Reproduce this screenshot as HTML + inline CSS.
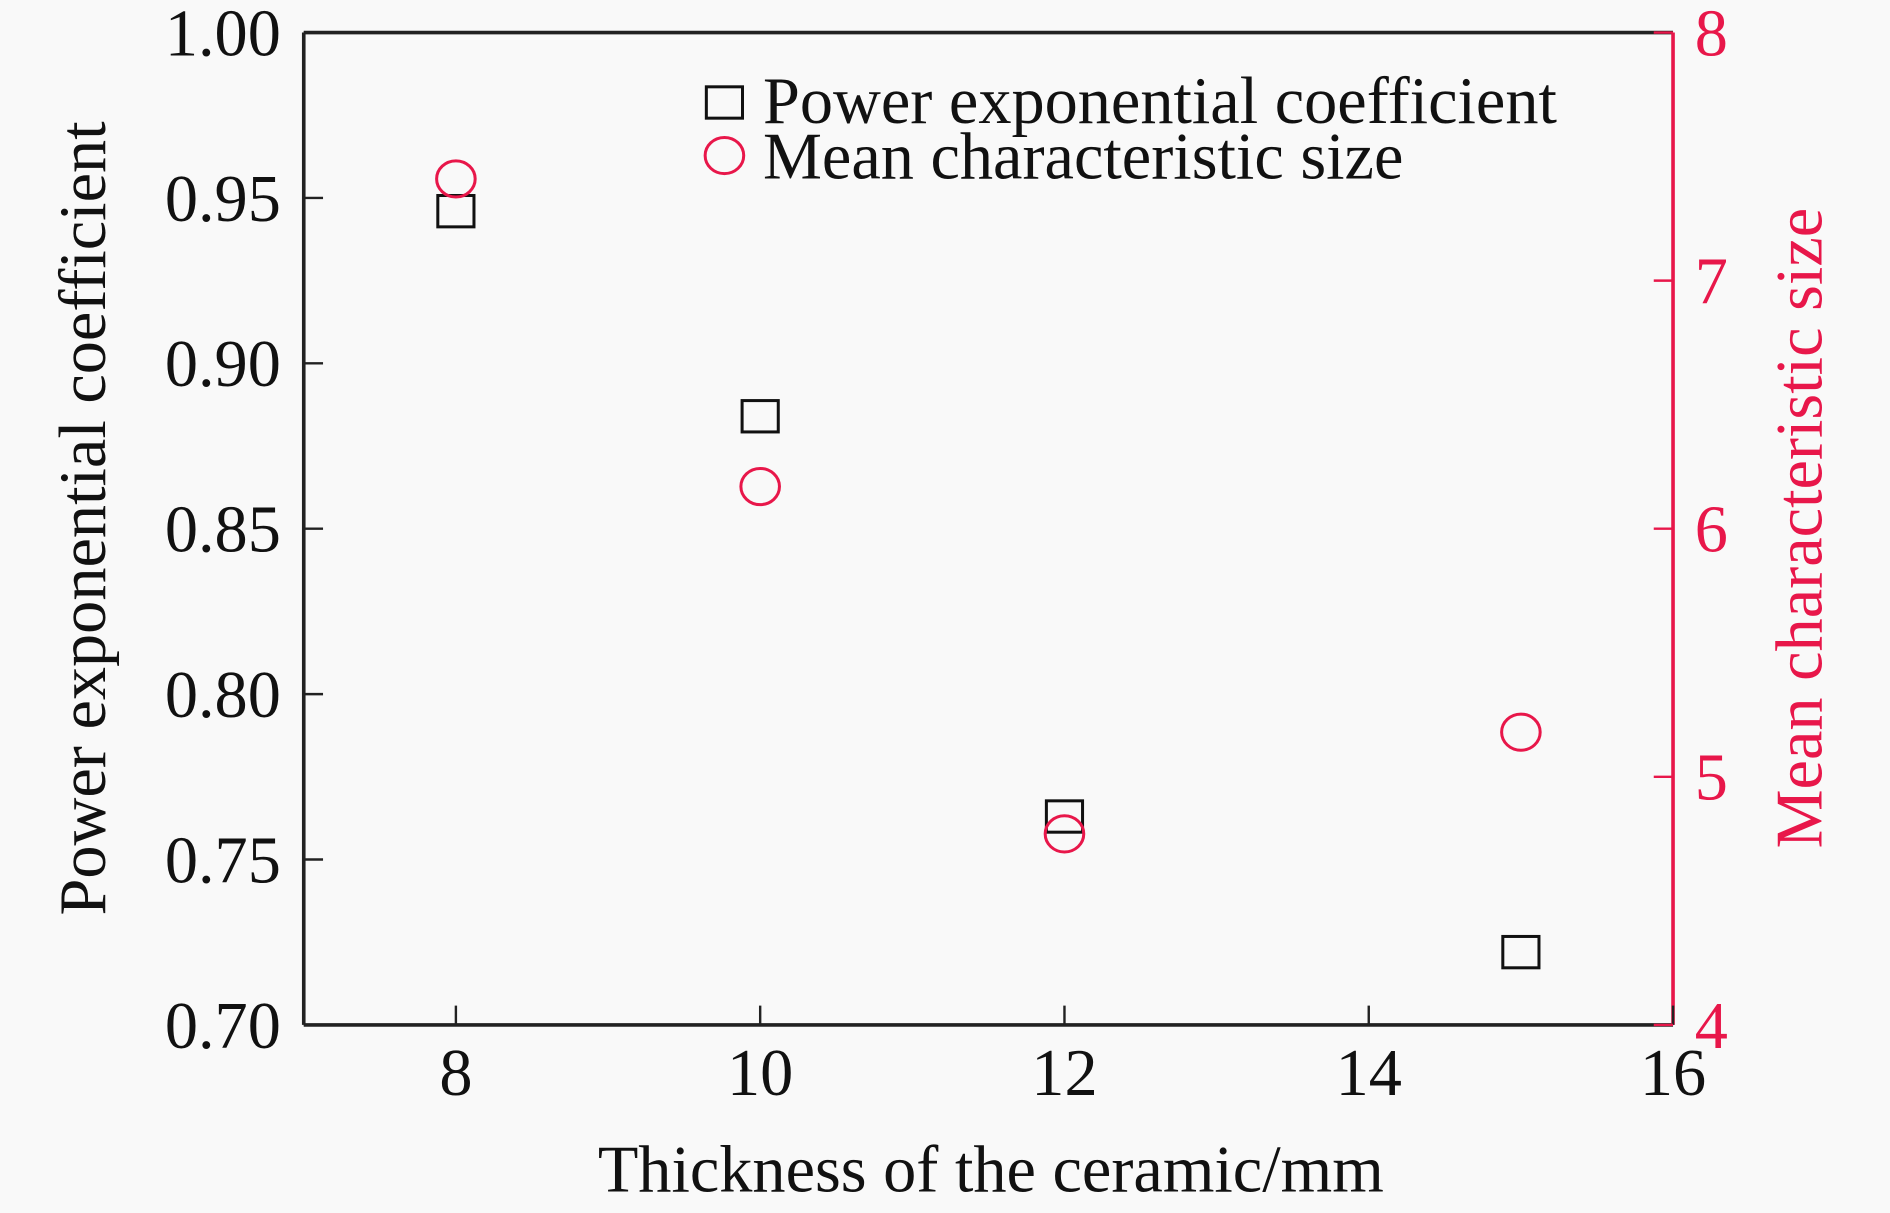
<!DOCTYPE html>
<html><head><meta charset="utf-8"><style>
html,body{margin:0;padding:0;background:#f9f9f9;}
svg{display:block;font-family:"Liberation Serif",serif;}
</style></head><body>
<svg id="chart" width="1890" height="1213" viewBox="0 0 1568 1006" preserveAspectRatio="none" xmlns="http://www.w3.org/2000/svg">
<rect width="1568" height="1006" fill="#f9f9f9"/>
<g id="plot"></g>
</svg>
<script>
const xCats=[8,10,12,15];
const powerCoef=[0.946,0.884,0.763,0.722];
const meanSize=[7.41,6.17,4.77,5.18];
const xTicks=[8,10,12,14,16];
const yLeftTicks=["0.70","0.75","0.80","0.85","0.90","0.95","1.00"];
const yRightTicks=[4,5,6,7,8];
const L=252,R=1388,T=27,B=850,RED="#e8174a",FS=55;
const xs=v=>L+(v-7)/9*(R-L);
const yl=v=>B-(v-0.7)/0.3*(B-T);
const yr=v=>B-(v-4)/4*(B-T);
const g=document.getElementById('plot');
const NS="http://www.w3.org/2000/svg";
function mk(t,a,txt){const e=document.createElementNS(NS,t);for(const k in a)e.setAttribute(k,a[k]);if(txt!==undefined)e.textContent=txt;g.appendChild(e);return e;}
let e;
e=mk('line',{x1:L,y1:T,x2:R,y2:T,stroke:'#222','stroke-width':3});


e=mk('line',{x1:L,y1:T,x2:L,y2:B,stroke:'#222','stroke-width':3});


e=mk('line',{x1:L,y1:B,x2:R,y2:B,stroke:'#222','stroke-width':3});


e=mk('line',{x1:R,y1:T,x2:R,y2:B,stroke:RED,'stroke-width':3});


xTicks.forEach(v=>{
 const x=xs(v);
 e=mk('line',{x1:x,y1:B,x2:x,y2:B-16,stroke:'#222','stroke-width':2});
 
 
 e=mk('text',{x:x,y:908,'font-size':FS,'text-anchor':'middle',fill:'#111'},v);
 
 
});
yLeftTicks.forEach(s=>{
 const y=yl(parseFloat(s));
 e=mk('line',{x1:L,y1:y,x2:L+16,y2:y,stroke:'#222','stroke-width':2});
 
 
 e=mk('text',{x:233,y:y+19,'font-size':FS,'text-anchor':'end',fill:'#111'},s);
 
 
});
yRightTicks.forEach(v=>{
 const y=yr(v);
 e=mk('line',{x1:R,y1:y,x2:R-16,y2:y,stroke:RED,'stroke-width':2});
 
 
 e=mk('text',{x:1406,y:y+19,'font-size':FS,fill:RED},v);
 
 
});
e=mk('text',{x:822,y:988,'font-size':FS,'text-anchor':'middle',fill:'#111'},'Thickness of the ceramic/mm');


e=mk('text',{x:0,y:0,'font-size':FS,'text-anchor':'middle',fill:'#111',transform:'translate(87,430) rotate(-90)'},'Power exponential coefficient');


e=mk('text',{x:0,y:0,'font-size':FS,'text-anchor':'middle',fill:RED,transform:'translate(1511,438) rotate(-90)'},'Mean characteristic size');


xCats.forEach((c,i)=>{
 e=mk('rect',{x:xs(c)-15,y:yl(powerCoef[i])-13,width:30,height:26,fill:'none',stroke:'#111','stroke-width':2.5});
 
 
});
xCats.forEach((c,i)=>{
 e=mk('ellipse',{cx:xs(c),cy:yr(meanSize[i]),rx:16,ry:15,fill:'none',stroke:RED,'stroke-width':2.5});
 
 
});
e=mk('rect',{x:586,y:72,width:30,height:26,fill:'none',stroke:'#111','stroke-width':2.5});


e=mk('text',{x:633,y:102,'font-size':FS,fill:'#111'},'Power exponential coefficient');


e=mk('ellipse',{cx:601,cy:129,rx:16,ry:15,fill:'none',stroke:RED,'stroke-width':2.5});


e=mk('text',{x:633,y:148,'font-size':FS,fill:'#111'},'Mean characteristic size');


</script>
</body></html>
